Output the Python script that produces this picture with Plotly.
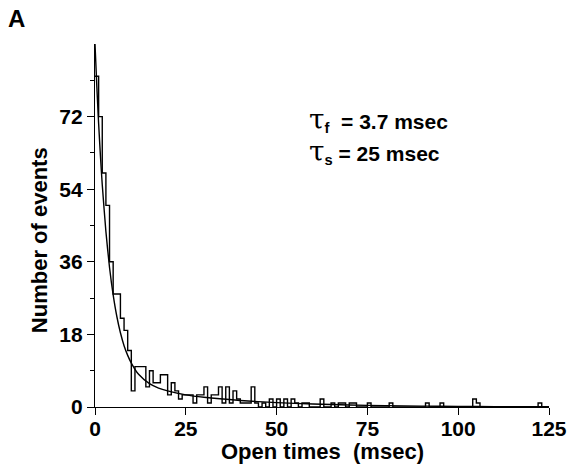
import plotly.graph_objects as go

# Histogram: counts per 1-ms bin (bin left edges 0..124)
bin_edges = list(range(0, 126))
counts = [
    82, 72, 58, 50, 36, 28, 28, 22, 19, 14,   # 0-9
    4, 10, 10, 10, 5, 9, 6, 6, 8, 8,          # 10-19
    3, 6, 4, 2, 3, 3, 3, 1, 3, 3,             # 20-29
    5, 1, 3, 3, 5, 1, 5, 1, 4, 2,             # 30-39
    1, 1, 1, 5, 1, 0, 1, 0, 2, 0,             # 40-49
    2, 0, 2, 0, 2, 1, 0, 1, 1, 0,             # 50-59
    0, 0, 2, 0, 0, 1, 0, 1, 1, 0,             # 60-69
    1, 1, 0, 0, 0, 1, 0, 0, 0, 0,             # 70-79
    0, 1, 0, 0, 0, 0, 0, 0, 0, 0,             # 80-89
    0, 1, 0, 0, 0, 1, 0, 0, 0, 0,             # 90-99
    0, 0, 0, 0, 2, 1, 0, 0, 0, 0,             # 100-109
    0, 0, 0, 0, 0, 0, 0, 0, 0, 0,             # 110-119
    0, 0, 1, 0, 0,                            # 120-124
]

# Fitted curve
fit_t = [0, 0.5, 1, 1.5, 2, 3, 4, 5, 6, 7, 8, 9, 10, 12, 15, 17.5, 20, 25, 30,
         40, 50, 60, 70, 80, 90, 100, 110, 125]
fit_y = [90, 79.5, 70.3, 62.2, 55.1, 43.5, 34.6, 27.8, 22.5, 18.4, 15.2, 12.8,
         10.9, 8.1, 5.8, 4.7, 4.0, 3.0, 2.4, 1.62, 1.08, 0.73, 0.49, 0.33,
         0.22, 0.15, 0.10, 0.05]

x_ticks = [0, 25, 50, 75, 100, 125]
y_ticks = [0, 18, 36, 54, 72]
y_minor = [9, 27, 45, 63, 81]

FONT = "Arial, Liberation Sans, Helvetica, sans-serif"

fig = go.Figure()
fig.add_trace(go.Scatter(
    x=bin_edges, y=counts + [counts[-1]],
    mode="lines", line=dict(color="black", width=1.4, shape="hv"),
    hoverinfo="skip", showlegend=False))
fig.add_trace(go.Scatter(
    x=fit_t, y=fit_y, mode="lines",
    line=dict(color="black", width=1.4, shape="spline", smoothing=0.6),
    hoverinfo="skip", showlegend=False))

fig.update_layout(
    width=571, height=467,
    margin=dict(l=95, r=22, t=44, b=60),
    paper_bgcolor="white", plot_bgcolor="white",
    font=dict(family=FONT, size=21, color="black"),
    xaxis=dict(
        range=[0, 125], tickvals=x_ticks, ticktext=[f"<b>{v}</b>" for v in x_ticks],
        showgrid=False, zeroline=False, showline=True, linecolor="black", linewidth=1.4,
        ticks="outside", ticklen=7, tickwidth=1.4, tickcolor="black",
        ticklabelstandoff=-4,
        tickfont=dict(size=21, family=FONT), automargin=False,
    ),
    yaxis=dict(
        range=[0, 90], tickvals=y_ticks, ticktext=[f"<b>{v}</b>" for v in y_ticks],
        showgrid=False, zeroline=False, showline=True, linecolor="black", linewidth=1.4,
        ticks="outside", ticklen=7, tickwidth=1.4, tickcolor="black",
        minor=dict(tickvals=y_minor, ticks="outside", ticklen=4,
                   tickwidth=1, tickcolor="black", showgrid=False),
        tickfont=dict(size=21, family=FONT), automargin=False,
    ),
    annotations=[
        dict(text="<b>A</b>", xref="paper", yref="paper", x=-0.174, y=1.0716,
             xanchor="center", yanchor="middle", showarrow=False,
             font=dict(size=24, family=FONT)),
        dict(text="<b>Open times  (msec)</b>", xref="paper", yref="paper",
             x=0.5, y=-0.123, xanchor="center", yanchor="middle", showarrow=False,
             font=dict(size=22, family=FONT)),
        dict(text="<b>Number of events</b>", xref="paper", yref="paper",
             x=-0.123, y=0.46, xanchor="center", yanchor="middle", showarrow=False,
             textangle=-90, font=dict(size=22, family=FONT)),
        dict(text="<span style='font-family:DejaVu Serif;font-size:28px'>τ</span><sub><b>f</b></sub><b>  = 3.7 msec</b>",
             xref="x", yref="y", x=58.5, y=71.3, xanchor="left", yanchor="middle",
             showarrow=False, font=dict(size=21, family=FONT)),
        dict(text="<span style='font-family:DejaVu Serif;font-size:28px'>τ</span><sub><b>s</b></sub><b> = 25 msec</b>",
             xref="x", yref="y", x=58.5, y=63.3, xanchor="left", yanchor="middle",
             showarrow=False, font=dict(size=21, family=FONT)),
    ],
)

fig.write_html("out.html", config={"displayModeBar": False},
               post_script="document.body.style.margin='0';document.body.style.overflow='hidden';")
